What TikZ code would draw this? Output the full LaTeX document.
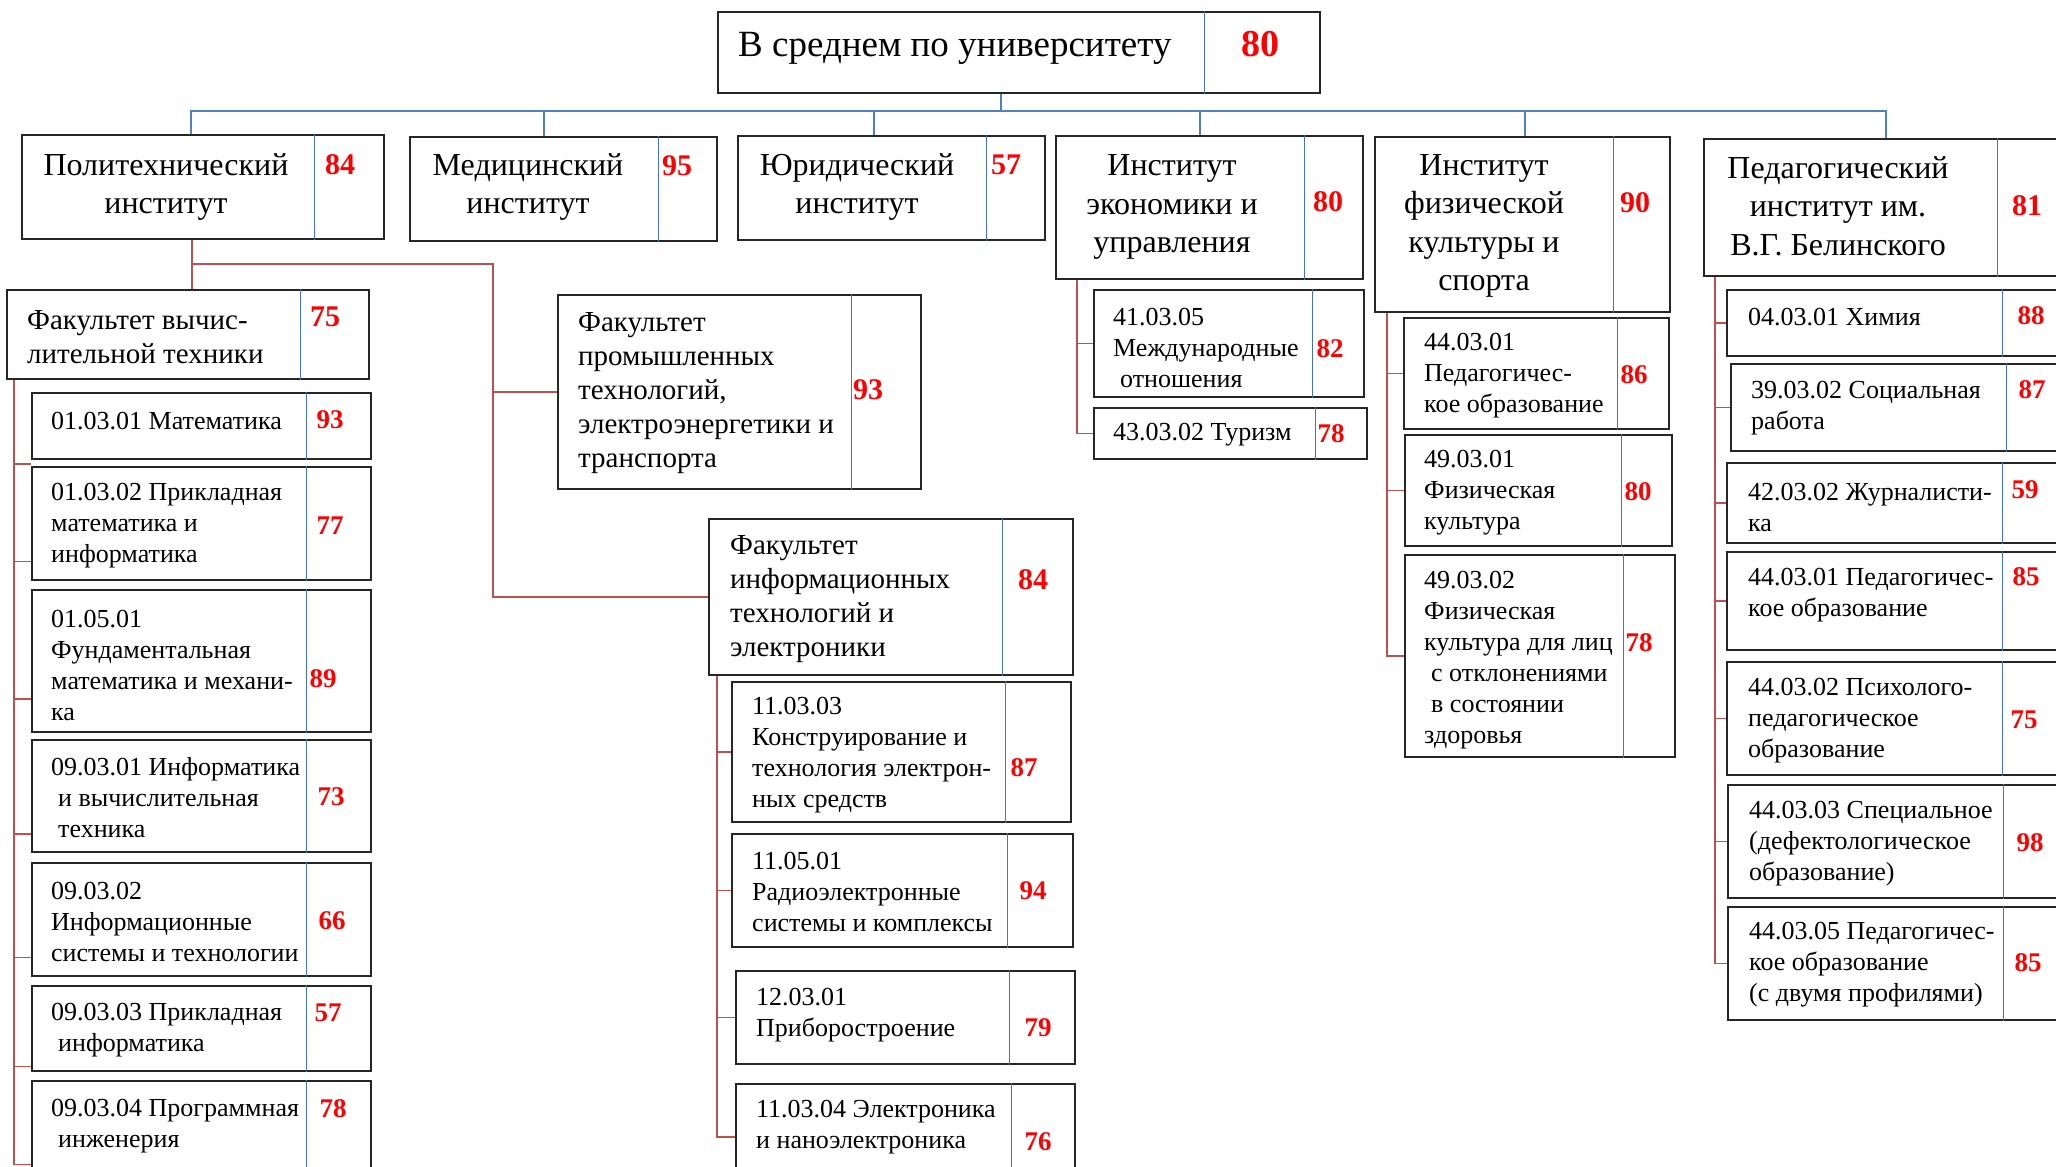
\documentclass[tikz,border=0pt]{standalone}
\usepackage{fontspec}
\setmainfont{Liberation Serif}
\usetikzlibrary{fit,calc}
\definecolor{divblue}{RGB}{68,114,196}
\definecolor{busblue}{RGB}{79,129,189}
\definecolor{treered}{RGB}{192,80,77}

\begin{document}
\begin{tikzpicture}[x=1pt,y=-1pt,
    box/.style={draw=black!85,line width=1.7pt,inner sep=0pt},
    divline/.style={divblue,line width=0.9pt},
    bus/.style={busblue,line width=1.5pt},
    treeline/.style={treered,line width=1.2pt},
    num/.style={text=red,inner sep=0pt,font=\bfseries\fontsize{27}{27}\selectfont},
    bignum/.style={num,font=\bfseries\fontsize{30}{30}\selectfont},
    txt/.style={anchor=west,align=left,inner sep=0pt,font=\fontsize{26}{31}\selectfont},
    ftxt/.style={txt,font=\fontsize{29}{34}\selectfont},
    itxt/.style={align=center,inner sep=0pt,font=\fontsize{32}{38.5}\selectfont}]
  \useasboundingbox (0,0) rectangle (2056,1167);

  % university
  \node[box,fit={(718,12) (1320,93)}] (top) {};
  \draw[divline] (top.north -| 1204,0) -- (top.south -| 1204,0);
  \node[anchor=west,inner sep=0pt,font=\fontsize{37}{37}\selectfont] (topt) at (738,48) {В среднем по университету};
  \node[num,font=\bfseries\fontsize{38}{38}\selectfont] (topn) at (1260,44) {80};

  % institutes
  \node[box,fit={(22,135) (384,239)}] (poly) {};
  \draw[divline] (poly.north -| 314,0) -- (poly.south -| 314,0);
  \node[itxt] (polyt) at (166,187) {Политехнический\\институт};
  \node[bignum] (polyn) at (340,165) {84};

  \node[box,fit={(410,137) (717,241)}] (med) {};
  \draw[divline] (med.north -| 658,0) -- (med.south -| 658,0);
  \node[itxt] (medt) at (528,187) {Медицинский\\институт};
  \node[bignum] (medn) at (677,166) {95};

  \node[box,fit={(738,136) (1045,240)}] (law) {};
  \draw[divline] (law.north -| 986,0) -- (law.south -| 986,0);
  \node[itxt] (lawt) at (857,187) {Юридический\\институт};
  \node[bignum] (lawn) at (1006,165) {57};

  \node[box,fit={(1056,136) (1363,279)}] (econ) {};
  \draw[divline] (econ.north -| 1304,0) -- (econ.south -| 1304,0);
  \node[itxt] (econt) at (1172,207) {Институт\\экономики и\\управления};
  \node[bignum] (econn) at (1328,202) {80};

  \node[box,fit={(1375,137) (1670,312)}] (phys) {};
  \draw[divline] (phys.north -| 1613,0) -- (phys.south -| 1613,0);
  \node[itxt] (physt) at (1484,226) {Институт\\физической\\культуры и\\спорта};
  \node[bignum] (physn) at (1635,203) {90};

  \node[box,fit={(1704,139) (2070,276)}] (ped) {};
  \draw[divline] (ped.north -| 1997,0) -- (ped.south -| 1997,0);
  \node[itxt] (pedt) at (1838,206) {Педагогический\\институт им.\\В.Г. Белинского};
  \node[bignum] (pedn) at (2027,206) {81};

  \foreach \i/\x in {poly/191,med/544,law/874,econ/1200,phys/1525,ped/1886}
    \draw[bus] (top.south -| 1001,0) |- (\x,111) -- (\i.north -| \x,0);

  % faculties
  \node[box,fit={(7,290) (369,379)}] (vt) {};
  \draw[divline] (vt.north -| 300,0) -- (vt.south -| 300,0);
  \node[ftxt] (vtt) at (27,337) {Факультет вычис-\\лительной техники};
  \node[bignum] (vtn) at (325,317) {75};

  \node[box,fit={(558,295) (921,489)}] (prom) {};
  \draw[divline] (prom.north -| 851,0) -- (prom.south -| 851,0);
  \node[ftxt] (promt) at (578,393) {Факультет\\промышленных\\технологий,\\электроэнергетики и\\транспорта};
  \node[bignum] (promn) at (868,390) {93};

  \node[box,fit={(709,519) (1073,675)}] (info) {};
  \draw[divline] (info.north -| 1002,0) -- (info.south -| 1002,0);
  \node[ftxt] (infot) at (730,599) {Факультет\\информационных\\технологий и\\электроники};
  \node[bignum] (infon) at (1033,580) {84};

  \coordinate (pj) at (192,264);
  \coordinate (pk) at (493,264);
  \draw[treeline] (poly.south -| pj) -- (vt.north -| pj);
  \draw[treeline] (pj) -- (pk) |- (info.west);
  \draw[treeline] (pk |- prom.west) -- (prom.west);

  % programmes: name/left/top/right/bottom/divider/number x/number y/value
  \foreach \n/\xa/\ya/\xb/\yb/\xd/\xn/\yn/\v in {
      vt1/32/393/371/459/306/330/420/93, vt2/32/467/371/580/306/330/526/77,
      vt3/32/590/371/732/306/323/679/89, vt4/32/740/371/852/306/331/797/73,
      vt5/32/863/371/976/306/332/921/66, vt6/32/986/371/1071/306/328/1013/57,
      vt7/32/1081/371/1172/306/333/1109/78,
      in1/732/682/1071/822/1005/1024/768/87, in2/732/834/1073/947/1007/1033/891/94,
      in3/736/971/1075/1064/1009/1038/1028/79, in4/736/1084/1075/1190/1011/1038/1142/76,
      ec1/1094/290/1364/397/1312/1330/349/82, ec2/1094/408/1367/459/1315/1331/434/78,
      ph1/1404/318/1669/429/1617/1634/375/86, ph2/1405/435/1672/546/1621/1638/492/80,
      ph3/1405/555/1675/757/1623/1639/643/78,
      pe1/1727/290/2070/356/2002/2031/316/88, pe2/1731/364/2070/451/2006/2032/390/87,
      pe3/1727/463/2070/543/2002/2025/490/59, pe4/1727/552/2070/650/2002/2026/577/85,
      pe5/1727/662/2070/775/2002/2024/720/75, pe6/1728/785/2070/898/2003/2030/843/98,
      pe7/1728/907/2070/1020/2003/2028/963/85}{
    \node[box,fit={(\xa,\ya) (\xb,\yb)}] (\n) {};
    \draw[divline] (\n.north -| \xd,0) -- (\n.south -| \xd,0);
    \node[num] (\n-n) at (\xn,\yn) {\v};
  }

  \foreach \n in {vt1,vt2,vt3,vt4,vt5,vt6,vt7}
    \draw[treeline] (vt.south -| 14,0) |- ($(\n.west)+(0,38)$);
  \foreach \n in {in1,in2,in3,in4}
    \draw[treeline] (info.south -| 717,0) |- (\n.west);
  \foreach \n in {ec1,ec2}
    \draw[treeline] (econ.south -| 1077,0) |- (\n.west);
  \foreach \n in {ph1,ph2,ph3}
    \draw[treeline] (phys.south -| 1387,0) |- (\n.west);
  \foreach \n in {pe1,pe2,pe3,pe4,pe5,pe6,pe7}
    \draw[treeline] (ped.south -| 1715,0) |- (\n.west);

  \node[txt] (vt1t) at (51,421) {01.03.01 Математика};
  \node[txt] (vt2t) at (51,526) {01.03.02 Прикладная\\математика и\\информатика};
  \node[txt] (vt3t) at (51,665) {01.05.01\\Фундаментальная\\математика и механи-\\ка};
  \node[txt] (vt4t) at (51,798) {09.03.01 Информатика\\\hspace*{7pt}и вычислительная\\\hspace*{7pt}техника};
  \node[txt] (vt5t) at (51,922) {09.03.02\\Информационные\\системы и технологии};
  \node[txt] (vt6t) at (51,1030) {09.03.03 Прикладная\\\hspace*{7pt}информатика};
  \node[txt] (vt7t) at (51,1126) {09.03.04 Программная\\\hspace*{7pt}инженерия};

  \node[txt] (in1t) at (752,755) {11.03.03\\Конструирование и\\технология электрон-\\ных средств};
  \node[txt] (in2t) at (752,892) {11.05.01\\Радиоэлектронные\\системы и комплексы};
  \node[txt] (in3t) at (756,1015) {12.03.01\\Приборостроение};
  \node[txt] (in4t) at (756,1127) {11.03.04 Электроника\\и наноэлектроника};

  \node[txt] (ec1t) at (1113,348) {41.03.05\\Международные\\\hspace*{7pt}отношения};
  \node[txt] (ec2t) at (1113,435) {43.03.02 Туризм};

  \node[txt] (ph1t) at (1424,376) {44.03.01\\Педагогичес-\\кое образование};
  \node[txt] (ph2t) at (1424,493) {49.03.01\\Физическая\\культура};
  \node[txt] (ph3t) at (1424,660) {49.03.02\\Физическая\\культура для лиц\\\hspace*{7pt}с отклонениями\\\hspace*{7pt}в состоянии\\здоровья};

  \node[txt] (pe1t) at (1748,317) {04.03.01 Химия};
  \node[txt] (pe2t) at (1751,408) {39.03.02 Социальная\\работа};
  \node[txt] (pe3t) at (1748,507) {42.03.02 Журналисти-\\ка};
  \node[txt] (pe4t) at (1748,595) {44.03.01 Педагогичес-\\кое образование};
  \node[txt] (pe5t) at (1748,721) {44.03.02 Психолого-\\педагогическое\\образование};
  \node[txt] (pe6t) at (1749,844) {44.03.03 Специальное\\(дефектологическое\\образование)};
  \node[txt] (pe7t) at (1749,965) {44.03.05 Педагогичес-\\кое образование\\(с двумя профилями)};
\end{tikzpicture}
\end{document}
